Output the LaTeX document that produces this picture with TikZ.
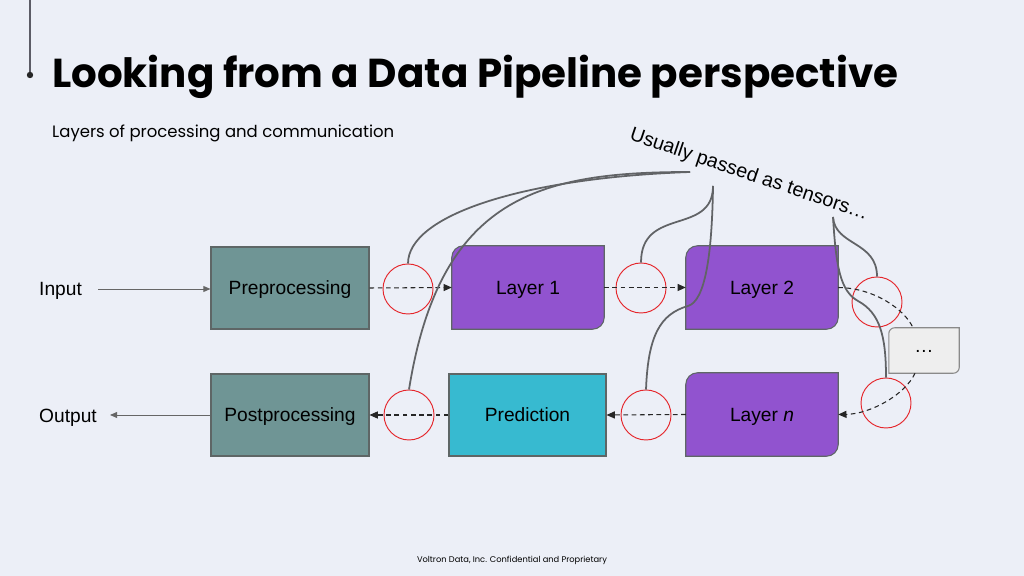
\documentclass[tikz,border=0pt]{standalone}
\usepackage{graphicx}
\usepackage{fontspec}
\setmainfont{Liberation Sans}
\newfontfamily\grotesk{Poppins}
\usetikzlibrary{arrows.meta,backgrounds,calc}
\definecolor{bgc}{HTML}{ECEFF7}
\definecolor{tealc}{HTML}{6F9595}
\definecolor{purpc}{HTML}{9153CF}
\definecolor{cyanc}{HTML}{37BAD0}
\definecolor{edgec}{HTML}{5E6666}
\definecolor{dotsfill}{HTML}{EEEEEE}
\definecolor{dotsedge}{HTML}{8A8A8A}
\definecolor{ringred}{HTML}{E5262B}
\definecolor{curvegray}{HTML}{616366}
\definecolor{decogray}{HTML}{5C5C66}
\def\pxu{0.85pt}
\newcommand\tlbrbox[4]{\path[fill=#2,draw=#4,line width=0.9pt] (#1.south west) -- ([yshift=-#3]#1.north west) arc[start angle=180,end angle=90,radius=#3] -- (#1.north east) -- ([yshift=#3]#1.south east) arc[start angle=0,end angle=-90,radius=#3] -- cycle;}
\tikzset{
  boxfont/.style={font=\fontsize{16.3}{19}\selectfont, text=black, text height=11.7pt, text depth=0pt},
  tealbox/.style={boxfont, draw=edgec, fill=tealc, line width=0.9pt, minimum width=158*\pxu, minimum height=82*\pxu, inner sep=0pt},
  predbox/.style={boxfont, draw=edgec, fill=cyanc, line width=0.9pt, minimum width=157*\pxu, minimum height=82*\pxu, inner sep=0pt},
  layerbox/.style={boxfont, minimum width=152*\pxu, minimum height=83*\pxu, inner sep=0pt},
  dotsbox/.style={boxfont, minimum width=70*\pxu, minimum height=45*\pxu, inner sep=0pt},
  ring/.style={circle, draw=ringred, line width=0.8pt, minimum size=50*\pxu, inner sep=0pt},
  flow/.style={draw=black!85, line width=0.9pt, dash pattern=on 4pt off 3pt, -{Triangle[length=7pt,width=6pt]}},
  ioarrow/.style={draw=black!60, line width=0.8pt, -{Triangle[length=6pt,width=5pt]}},
  callout/.style={draw=curvegray, line width=1.5pt},
  iotext/.style={boxfont, inner sep=0pt, anchor=west}
}
\begin{document}
\begin{tikzpicture}[x=0.85pt,y=0.85pt]
\useasboundingbox (0,0) rectangle (1024,576);
% header
\draw[decogray, line width=1.2pt] (30,576) -- (30,503);
\fill[black!85] (30,501) circle (3.2);
\node[anchor=base west, inner sep=0pt] (title) at (52,488) {\resizebox{719pt}{!}{\grotesk\bfseries Looking from a Data Pipeline perspective}};
\node[anchor=base west, inner sep=0pt] (subtitle) at (52,438) {\resizebox{290.7pt}{!}{\grotesk Layers of processing and communication}};
\node[anchor=base, inner sep=0pt] (foot) at (512,13) {\resizebox{161.5pt}{!}{\grotesk Voltron Data, Inc. Confidential and Proprietary}};
% boxes
\node[tealbox] (pre) at (290,288) {Preprocessing};
\node[tealbox] (post) at (290,161) {Postprocessing};
\node[layerbox] (l1) at (528,288.5) {Layer 1};
\node[layerbox] (l2) at (762,288.5) {Layer 2};
\node[predbox] (pred) at (527.5,161) {Prediction};
\node[layerbox] (ln) at (762,161.5) {Layer \textit{n}};
\node[dotsbox, text height=3pt] (dots) at (924,225.5) {\ldots};
\begin{scope}[on background layer]
  \fill[bgc] (0,0) rectangle (1024,576);
  \tlbrbox{l1}{purpc}{10pt}{edgec}
  \tlbrbox{l2}{purpc}{10pt}{edgec}
  \tlbrbox{ln}{purpc}{10pt}{edgec}
  \tlbrbox{dots}{dotsfill}{5pt}{dotsedge}
\end{scope}
% input / output
\node[iotext] (in) at (39,287) {Input};
\node[iotext] (out) at (39,160) {Output};
\draw[ioarrow, shorten <=13.6pt] (in.east) -- (in.east -| pre.west);
\draw[ioarrow, shorten >=11pt] (post.west) -- (post.west -| out.east);
% rings
\node[ring] (c1) at (408,287) {};
\node[ring] (c2) at (641,288) {};
\node[ring] (c3) at (877,274) {};
\node[ring] (c4) at (886,173) {};
\node[ring] (c5) at (409,161) {};
\node[ring] (c6) at (646,161) {};
% data flow
\draw[flow] (pre.east) -- (l1.west);
\draw[flow] (l1.east) -- (l2.west);
\draw[flow, -] (l2.east) .. controls (875,288) and (905,266) .. ([xshift=-11*\pxu]dots.north);
\draw[flow] ([xshift=-9*\pxu]dots.south) .. controls (905,181) and (870,162) .. (ln.east);
\draw[flow] (ln.west) -- (pred.east);
\draw[flow] (pred.west) -- (post.east);
% label and callouts
\node[font=\fontsize{16.8}{19}\selectfont, rotate=-18.7, inner sep=0pt] (lab) at (749,401) {Usually passed as tensors\ldots};
\coordinate (A) at (690,404);
\coordinate (B) at (713,390);
\coordinate (C) at (833,359);
\draw[callout] (A) .. controls (520,398) and (408,360) .. (c1.north);
\draw[callout] (A) .. controls (540,404) and (440,380) .. (c5.north);
\draw[callout] (B) .. controls (713,340) and (641,370) .. (c2.north);
\draw[callout] (B) .. controls (712,320) and (705,275) .. (688,270) .. controls (660,262) and (648,240) .. (c6.north);
\draw[callout] (C) .. controls (835,330) and (877,335) .. (c3.north);
\draw[callout] (C) .. controls (836,310) and (840,285) .. (858,275) .. controls (880,263) and (886,240) .. (c4.north);
\end{tikzpicture}
\end{document}
